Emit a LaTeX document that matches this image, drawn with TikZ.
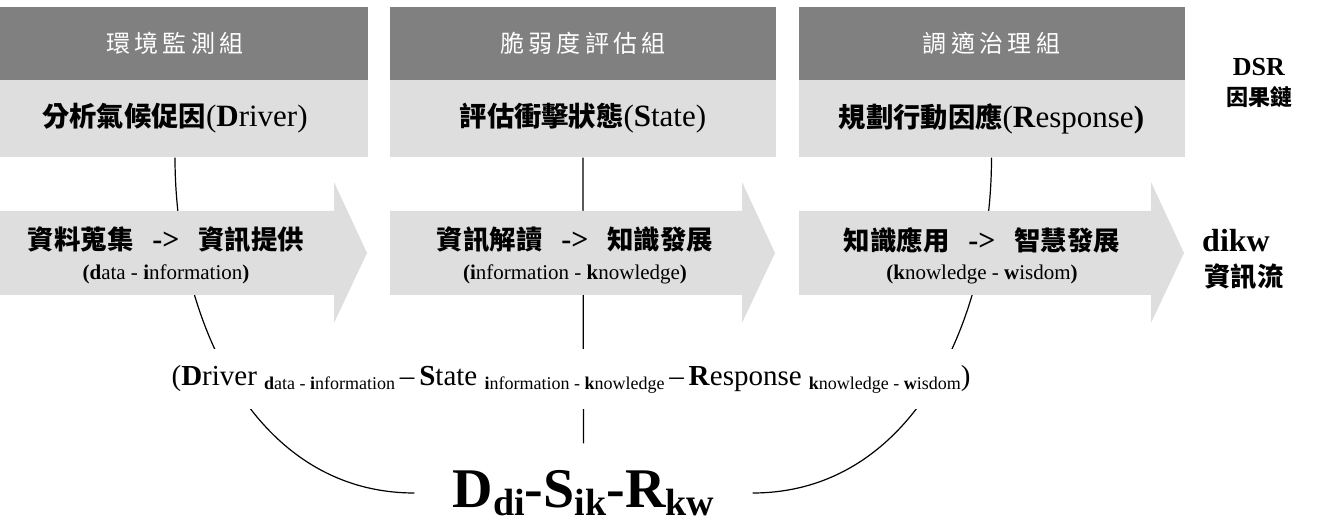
\documentclass[tikz,border=0pt]{standalone}
\usepackage{fontspec}
\setmainfont{Liberation Serif}
\newfontfamily\cjk{Noto Sans CJK TC}[Scale=0.88]
\newfontfamily\cjkwide{Noto Sans CJK TC}[LetterSpace=18]
\definecolor{headgray}{gray}{0.5}
\definecolor{bodygray}{gray}{0.87}
\newcommand{\zh}[1]{{\cjk\bfseries #1}}
\newcommand{\lowsub}[1]{\raisebox{-4pt}{\fontsize{18}{20}\selectfont #1}}
\newcommand{\bigsub}[1]{\raisebox{-8pt}{\fontsize{38}{40}\selectfont #1}}

\begin{document}
\begin{tikzpicture}[x=1pt,y=1pt,line width=1.2pt]
\tikzstyle{grouphead}=[fill=headgray, text=white, minimum width=386pt, minimum height=73pt, inner sep=0pt, font=\cjkwide\fontsize{24}{24}\selectfont]
\tikzstyle{groupbody}=[fill=bodygray, minimum width=386pt, minimum height=77pt, inner sep=0pt, font=\fontsize{31}{34}\selectfont]
\tikzstyle{flowtext}=[inner sep=0pt, font=\fontsize{30}{32}\selectfont]
\tikzstyle{flowsub}=[inner sep=0pt, font=\fontsize{21}{24}\selectfont]
\tikzstyle{sidelabel}=[inner sep=0pt]

\useasboundingbox (0,0) rectangle (1317,527);
\clip (0,0) rectangle (1317,527);

% three working groups
\node[grouphead] (G1) at (175,483.5) {環境監測組};
\node[grouphead] (G2) at (583,483.5) {脆弱度評估組};
\node[grouphead] (G3) at (991.5,483.5) {調適治理組};

\node[groupbody] (B1) at (175,408.5) {\zh{分析氣候促因}(\textbf{D}river)};
\node[groupbody] (B2) at (583,408.5) {\zh{評估衝擊狀態}(\textbf{S}tate)};
\node[groupbody] (B3) at (991.5,408.5) {\zh{規劃行動因應}(\textbf{R}esponse\textbf{)}};

% result
\node[minimum width=337pt, minimum height=98pt, inner sep=0pt,
      font=\fontsize{56}{60}\selectfont] (DSR) at (583.5,34)
  {\textbf{D\bigsub{di}-S\bigsub{ik}-R\bigsub{kw}}};

\draw (B1.south) to[out=-90, in=180] (DSR.west);
\draw (B2.south) -- (DSR.north);
\draw (B3.south) to[out=-90, in=0] (DSR.east);

% dikw arrows
\foreach \x in {-18,390,799}
  \fill[bodygray] (\x,232) -- ++(352,0) -- ++(0,-28) -- (\x+385,274)
    -- (\x+352,345) -- ++(0,-29) -- (\x,316) -- cycle;

\node[flowtext] (F1) at (166,287) {\zh{資料蒐集}\hspace{19pt}\textbf{->}\hspace{19pt}\zh{資訊提供}};
\node[flowsub] (F1s) at (166,253) {\textbf{(d}ata - \textbf{i}nformation\textbf{)}};
\node[flowtext] (F2) at (575,287) {\zh{資訊解讀}\hspace{19pt}\textbf{->}\hspace{19pt}\zh{知識發展}};
\node[flowsub] (F2s) at (575,253) {\textbf{(i}nformation - \textbf{k}nowledge\textbf{)}};
\node[flowtext] (F3) at (982,287) {\zh{知識應用}\hspace{19pt}\textbf{->}\hspace{19pt}\zh{智慧發展}};
\node[flowsub] (F3s) at (982,253) {\textbf{(k}nowledge - \textbf{w}isdom\textbf{)}};

% chain formula
\node[fill=white, anchor=west, inner xsep=6pt, inner ysep=16pt,
      font=\fontsize{29}{32}\selectfont] (chain) at (165,148)
  {\makebox[830pt][l]{(\textbf{D}river \lowsub{\textbf{d}ata - \textbf{i}nformation}\,–\,\textbf{S}tate
   \lowsub{\textbf{i}nformation - \textbf{k}nowledge}\,–\,\textbf{R}esponse
   \lowsub{\textbf{k}nowledge - \textbf{w}isdom})}};

% side labels
\node[sidelabel, font=\fontsize{26}{26}\selectfont] (dsrname) at (1259,460) {\textbf{DSR}};
\node[sidelabel, font=\fontsize{25}{25}\selectfont] (dsrzh) at (1259,430) {\zh{因果鏈}};
\node[sidelabel, font=\fontsize{32}{32}\selectfont] (dikwname) at (1236,286) {\textbf{dikw}};
\node[sidelabel, font=\fontsize{30}{30}\selectfont] (dikwzh) at (1244,250) {\zh{資訊流}};

\end{tikzpicture}
\end{document}
